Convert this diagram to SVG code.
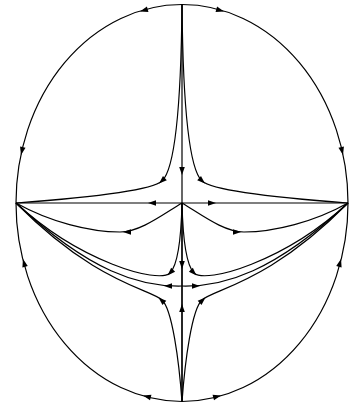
<svg xmlns="http://www.w3.org/2000/svg" xmlns:xlink="http://www.w3.org/1999/xlink" width="354" height="409" viewBox="0 0 354 409">
<style>
.ln{fill:none;stroke:#000;stroke-width:1.2}
.thick{stroke-width:1.7}
.ah{fill:#000;stroke:none}
</style>
<defs>
<path id="ah" class="ah" d="M0,0 L-8,-2.8 L-8,2.8 Z"/>
</defs>
<rect width="354" height="409" fill="#fff"/>
<g id="connectors">
<ellipse id="boundary" class="ln" cx="182" cy="203" rx="166" ry="198.5"/>
<path id="axis-h" class="ln" d="M16,203 H348"/>
<path id="axis-v-top" class="ln" d="M182,4.5 V203"/>
<path id="axis-v-bottom" class="ln thick" d="M182,203 V401.5"/>
<path id="top-left" class="ln" d="M182,5 C181,110 174,170 162,181 C150,192 70,199 16,203"/>
<path id="top-right" class="ln" d="M182,5 C183,110 190,170 202,181 C214,192 294,199 348,203"/>
<path id="mid-left" class="ln" d="M182,203 C162,215 140,232 120,232 C90,232 50,222 16,203"/>
<path id="mid-right" class="ln" d="M182,203 C202,215 224,232 244,232 C274,232 314,222 348,203"/>
<path id="a-left" class="ln" d="M182,203 C181,245 177,266 170,273 C158,284 80,262 16,203"/>
<path id="a-right" class="ln" d="M182,203 C183,245 187,266 194,273 C206,284 284,262 348,203"/>
<path id="b-left" class="ln" d="M182,286 C140,287 90,272 16,203"/>
<path id="b-right" class="ln" d="M182,286 C224,287 274,272 348,203"/>
<path id="c-left" class="ln" d="M182,402 C179,360 172,309 162,300 C150,289 95,283 16,203"/>
<path id="c-right" class="ln" d="M182,402 C185,360 192,309 202,300 C214,289 269,283 348,203"/>
</g>
<g id="arrowheads">
<use xlink:href="#ah" transform="translate(148,203) rotate(180)"/>
<use xlink:href="#ah" transform="translate(216,203)"/>
<use xlink:href="#ah" transform="translate(182,175) rotate(90)"/>
<use xlink:href="#ah" transform="translate(182,269) rotate(90)"/>
<use xlink:href="#ah" transform="translate(182,304) rotate(-90)"/>
<use xlink:href="#ah" transform="translate(159,183.5) rotate(137.5)"/>
<use xlink:href="#ah" transform="translate(205,183.5) rotate(42.5)"/>
<use xlink:href="#ah" transform="translate(123,232) rotate(180)"/>
<use xlink:href="#ah" transform="translate(241,232)"/>
<use xlink:href="#ah" transform="translate(167.5,275.5) rotate(135)"/>
<use xlink:href="#ah" transform="translate(196.5,275.5) rotate(45)"/>
<use xlink:href="#ah" transform="translate(164,286) rotate(180)"/>
<use xlink:href="#ah" transform="translate(200,286)"/>
<use xlink:href="#ah" transform="translate(158.5,297.5) rotate(-137.5)"/>
<use xlink:href="#ah" transform="translate(205.5,297.5) rotate(-42.5)"/>
<use xlink:href="#ah" transform="translate(140,11.5) rotate(164)"/>
<use xlink:href="#ah" transform="translate(224,11.5) rotate(16)"/>
<use xlink:href="#ah" transform="translate(21,155) rotate(103)"/>
<use xlink:href="#ah" transform="translate(343,155) rotate(77)"/>
<use xlink:href="#ah" transform="translate(23,259) rotate(-105)"/>
<use xlink:href="#ah" transform="translate(341,259) rotate(-75)"/>
<use xlink:href="#ah" transform="translate(143,395.5) rotate(-165)"/>
<use xlink:href="#ah" transform="translate(221,395.5) rotate(-15)"/>
</g>
</svg>
